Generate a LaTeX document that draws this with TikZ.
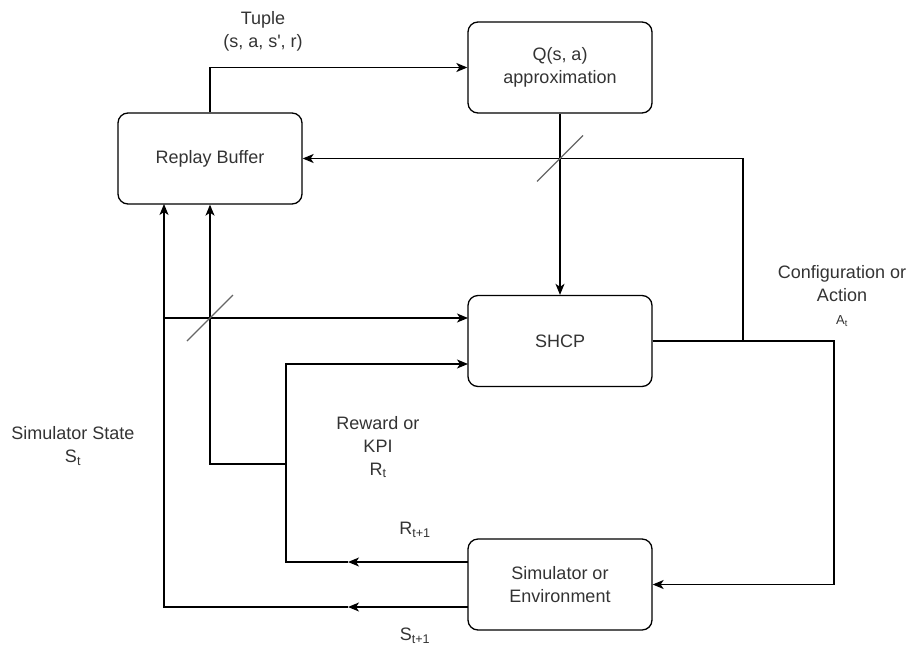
\documentclass[tikz,border=0pt]{standalone}
\usepackage{fontspec}
\setmainfont[Ligatures=TeXOff]{Liberation Sans}
\usepackage{tikz}
\usetikzlibrary{arrows.meta, positioning}

\begin{document}
\begin{tikzpicture}[
    x = 1pt, y = -1pt,
    block/.style = {
      draw,
      rectangle,
      rounded corners = 10pt,
      line width = 1.3pt,
      minimum width = 184pt,
      minimum height = 91pt,
      inner sep = 0pt,
      align = center,
      text = black!80,
      font = \fontsize{18}{23}\selectfont,
    },
    label text/.style = {
      align = center,
      text = black!80,
      font = \fontsize{18}{23}\selectfont,
    },
    wire/.style = {line width = 1.3pt},
    arrow/.style = {wire, -{Stealth[length = 11pt, width = 9pt, inset = 3pt]}},
    slash/.style = {line width = 1.1pt, black!60},
  ]
      \useasboundingbox (0,0) rectangle (909,648);

      \node [block] (buffer) at (210,158.5) {Replay Buffer};
      \node [block] (qnet)   at (560,67.5)  {Q(s, a)\\approximation};
      \node [block] (shcp)   at (560,341)   {SHCP};
      \node [block] (sim)    at (560,584.5) {Simulator or\\Environment};

      \coordinate (buffer in)  at (164,204);
      \coordinate (back turn)  at (743,158.5);
      \coordinate (act turn)   at (834,341);
      \coordinate (reward out) at (468,562);
      \coordinate (reward mid) at (348,562);
      \coordinate (reward up)  at (286,364);
      \coordinate (reward in)  at (468,364);
      \coordinate (reward tap) at (286,464);
      \coordinate (state out)  at (468,607);
      \coordinate (state mid)  at (348,607);
      \coordinate (state tap)  at (164,318);
      \coordinate (state in)   at (468,318);

      \draw [arrow] (buffer.north) |- (qnet.west);
      \draw [arrow] (qnet.south) -- (shcp.north);
      \draw [arrow] (shcp.east) -| (back turn) -- (buffer.east);
      \draw [arrow] (shcp.east) -- (act turn) |- (sim.east);

      \draw [arrow] (reward mid) -| (reward up) -- (reward in);
      \draw [arrow] (reward out) -- (reward mid);
      \draw [arrow] (reward tap) -| (buffer.south);

      \draw [arrow] (state mid) -| (buffer in);
      \draw [arrow] (state out) -- (state mid);
      \draw [arrow] (state tap) -- (state in);

      % bus markers
      \draw [slash] (537,181.5) -- (583,135.5);
      \draw [slash] (187,341) -- (233,295);

      \node [label text] (tuple)  at (263,31)  {Tuple\\(s, a, s', r)};
      \node [label text] (config) at (842,296) {Configuration or\\Action\\{\fontsize{13}{14}\selectfont A\textsubscript{t}}};
      \node [label text] (reward) at (378,447) {Reward or\\KPI\\R\textsubscript{t}};
      \node [label text] (state)  at (73,446)  {Simulator State\\S\textsubscript{t}};
      \node [label text] (rnext)  at (415,530) {R\textsubscript{t+1}};
      \node [label text] (snext)  at (415,636) {S\textsubscript{t+1}};
\end{tikzpicture}
\end{document}
